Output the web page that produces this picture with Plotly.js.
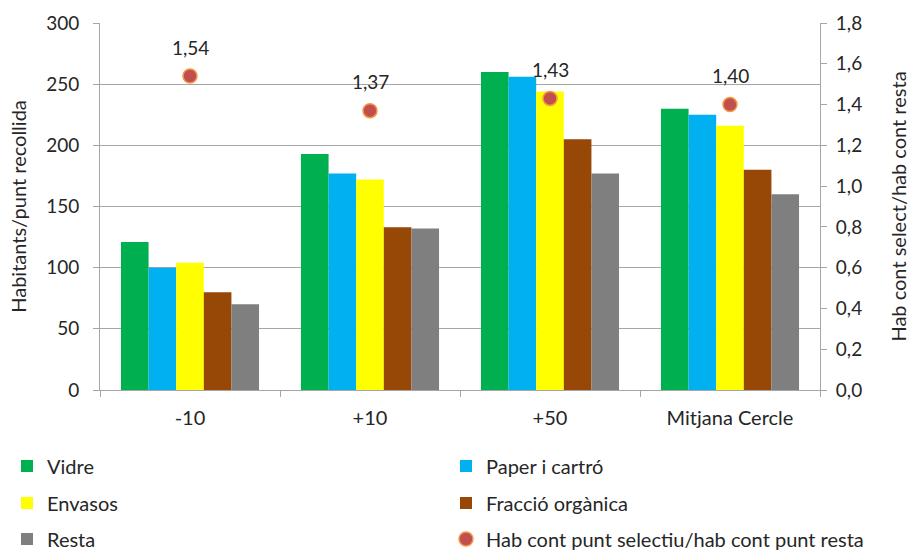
<!DOCTYPE html>
<html>
<head>
<meta charset="utf-8">
<script src="https://cdn.plot.ly/plotly-3.0.1.min.js"></script>
<style>html,body{margin:0;padding:0;background:#fff;}#chart{width:912px;height:551px;}</style>
</head>
<body>
<div id="chart"></div>
<script>
const categories = ['-10', '+10', '+50', 'Mitjana Cercle'];
const vidre = [121, 193, 260, 230];
const paper = [100, 177, 256, 225];
const envasos = [104, 172, 244, 216];
const organica = [80, 133, 205, 180];
const resta = [70, 132, 177, 160];
const ratio = [1.54, 1.37, 1.43, 1.40];

const seriesNames = ['Vidre', 'Paper i cartró', 'Envasos', 'Fracció orgànica', 'Resta'];
const seriesValues = [vidre, paper, envasos, organica, resta];
const seriesColors = ['#00B050', '#00B0F0', '#FFFF00', '#974706', '#7F7F7F'];
const ratioName = 'Hab cont punt selectiu/hab cont punt resta';

const FONT = 'Lato, "Open Sans", sans-serif';
const TXT = '#262626';
const GRID = '#A6A6A6';

const legendIds = ['legend', 'legend2', 'legend3', 'legend4', 'legend5', 'legend6'];

const traces = seriesNames.map((n, i) => ({
  type: 'bar', name: n, x: categories, y: seriesValues[i],
  marker: {color: seriesColors[i], line: {width: 0}},
  legend: legendIds[i], hoverinfo: 'none'
}));
traces.push({
  type: 'scatter', mode: 'markers', name: ratioName, x: categories, y: ratio,
  yaxis: 'y2', legend: legendIds[5],
  marker: {color: '#C0504D', size: 14, line: {color: '#F79646', width: 1.5}},
  hoverinfo: 'none'
});

const annotations = categories.map((c, i) => ({
  x: i, y: ratio[i], xref: 'x', yref: 'y2', yshift: 29, showarrow: false,
  text: ratio[i].toFixed(2).replace('.', ','),
  font: {family: FONT, size: 19, color: TXT}
}));

// legend placement (container fractions): 2 columns x 3 rows
const colX = [7 / 912, 446 / 912];
const rowY = [(551 - 466) / 551, (551 - 503) / 551, (551 - 539) / 551];
const legends = {};
legendIds.forEach((id, i) => {
  legends[id] = {
    x: colX[i % 2], y: rowY[Math.floor(i / 2)], xref: 'container', yref: 'container',
    xanchor: 'left', yanchor: 'middle',
    orientation: 'h', bgcolor: 'rgba(0,0,0,0)', borderwidth: 0,
    font: {family: FONT, size: 20, color: TXT}, itemwidth: 30
  };
});

const layout = Object.assign({
  width: 912, height: 551,
  margin: {l: 100, r: 92, t: 23, b: 161},
  paper_bgcolor: '#fff', plot_bgcolor: '#fff',
  separators: ',.',
  font: {family: FONT, size: 19, color: TXT},
  barmode: 'group', bargap: 0.233, bargroupgap: 0,
  xaxis: {
    type: 'category', showgrid: false, showline: true, linecolor: GRID, linewidth: 1,
    ticks: 'outside', tickson: 'boundaries', ticklen: 6, tickcolor: GRID,
    tickfont: {family: FONT, size: 20, color: TXT}, ticklabelstandoff: 10, automargin: false
  },
  yaxis: {
    range: [0, 300], dtick: 50, showgrid: true, gridcolor: GRID, gridwidth: 1,
    showline: true, linecolor: GRID, linewidth: 1, zeroline: false,
    ticks: 'outside', ticklen: 6, tickcolor: GRID, automargin: false, ticklabelstandoff: 10,
    tickfont: {family: FONT, size: 19, color: TXT},
    title: {text: 'Habitants/punt recollida', font: {family: FONT, size: 20, color: TXT}, standoff: 14}
  },
  yaxis2: {
    overlaying: 'y', side: 'right', range: [0, 1.8], dtick: 0.2, tickformat: '.1f',
    showgrid: false, showline: true, linecolor: GRID, linewidth: 1, zeroline: false,
    ticks: 'outside', ticklen: 6, tickcolor: GRID, automargin: false, ticklabelstandoff: 5,
    tickfont: {family: FONT, size: 19, color: TXT},
    title: {text: 'Hab cont select/hab cont resta', font: {family: FONT, size: 20, color: TXT}, standoff: 30}
  },
  showlegend: true,
  annotations: annotations
}, legends);

Plotly.newPlot('chart', traces, layout, {staticPlot: true, displayModeBar: false});
</script>
</body>
</html>
